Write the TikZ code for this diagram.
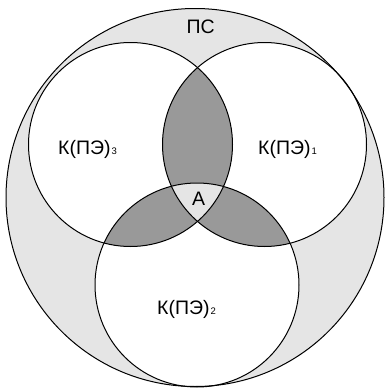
\documentclass[tikz,border=0pt]{standalone}
\usepackage{fontspec}
\setmainfont{Liberation Sans}
\usetikzlibrary{positioning}
\newcommand{\idx}[1]{\kern1pt{\fontsize{9.5}{9.5}\selectfont #1}}
\tikzset{
  lbl/.style={inner sep=0pt, anchor=base west, font=\fontsize{19.5}{21}\selectfont},
  rim/.style={line width=1pt},
}

\begin{document}
\begin{tikzpicture}[x=1pt, y=-1pt]
\useasboundingbox (0,0) rectangle (384,388);
% centres of the circles
\coordinate (ps) at (195,197.5);
\coordinate (pe1) at (264.5,144.5);
\coordinate (pe2) at (197,285);
\coordinate (pe3) at (130.5,144.5);
% ПС
\fill[gray!20] (ps) circle (189pt);
% three circles, white inside
\fill[white] (pe1) circle (102pt);
\fill[white] (pe2) circle (102pt);
\fill[white] (pe3) circle (102pt);
% pairwise overlaps in dark grey
\begin{scope}
\clip (pe3) circle (102pt);
\fill[black!40] (pe1) circle (102pt);
\fill[black!40] (pe2) circle (102pt);
\end{scope}
\begin{scope}
\clip (pe1) circle (102pt);
\fill[black!40] (pe2) circle (102pt);
\end{scope}
% A: all three
\begin{scope}
\clip (pe1) circle (102pt);
\clip (pe3) circle (102pt);
\fill[gray!20] (pe2) circle (102pt);
\end{scope}
% outlines
\draw[rim] (ps) circle (189pt);
\draw[rim] (pe1) circle (102pt);
\draw[rim] (pe2) circle (102pt);
\draw[rim] (pe3) circle (102pt);
% labels
\node[lbl] (lps) at (186.5,33) {ПС};
\node[lbl] (lk3) at (58,154) {К(ПЭ)\idx{3}};
\node[lbl] (lk1) at (258,154) {К(ПЭ)\idx{1}};
\node[lbl] (lk2) at (157,314) {К(ПЭ)\idx{2}};
\node[lbl] (la) at (192,205) {А};
\end{tikzpicture}
\end{document}
